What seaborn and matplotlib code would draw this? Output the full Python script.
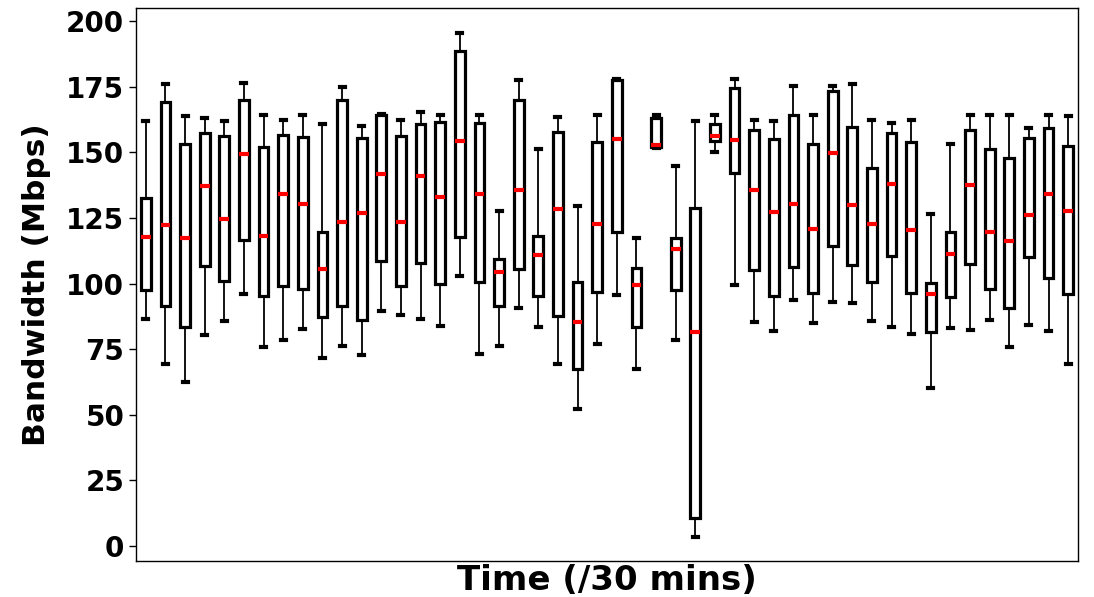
import numpy as np
import pandas as pd
import matplotlib
matplotlib.use("Agg")
import matplotlib.pyplot as plt
import seaborn as sns

# Five-number summaries per 30-minute slot
slots = list(range(1, 49))
whisker_high = [161.9, 175.9, 163.9, 163.2, 161.9, 176.3, 164.3, 162.3, 164.3, 160.8,
                174.9, 160.2, 164.5, 162.3, 165.4, 164.1, 195.3, 164.3, 127.5, 177.4,
                151.3, 163.4, 129.4, 164.3, 178.1, 117.5, 164.2, 144.7, 161.9, 164.1,
                177.8, 162.3, 161.9, 175.3, 164.3, 175.3, 175.9, 162.3, 161.2, 162.3,
                126.4, 153.3, 164.3, 164.3, 164.3, 159.4, 164.3, 163.9]
q3 = [132.5, 169.0, 153.3, 157.3, 156.2, 170.0, 151.9, 156.8, 155.8, 119.6,
      170.0, 155.3, 164.3, 156.4, 160.9, 161.7, 188.8, 161.1, 109.4, 169.9,
      118.3, 157.7, 100.5, 154.0, 177.5, 105.8, 163.0, 117.5, 128.8, 160.8,
      174.4, 158.7, 155.1, 164.3, 153.0, 173.2, 159.8, 144.1, 157.3, 154.0,
      100.1, 119.7, 158.7, 151.4, 147.7, 155.5, 159.2, 152.6]
median = [117.7, 122.4, 117.4, 137.3, 124.7, 149.4, 118.1, 134.1, 130.4, 105.7,
          123.5, 126.9, 141.6, 123.4, 140.8, 133.0, 154.4, 134.1, 104.6, 135.6,
          110.7, 128.5, 85.4, 122.7, 154.9, 99.6, 152.9, 113.3, 81.5, 156.3,
          154.8, 135.8, 127.3, 130.2, 120.7, 149.6, 130.0, 122.6, 137.8, 120.5,
          96.2, 111.4, 137.7, 119.8, 116.4, 126.2, 134.1, 127.5]
q1 = [97.5, 91.5, 83.4, 106.6, 101.1, 116.6, 95.3, 99.2, 97.8, 87.2,
      91.5, 86.1, 108.5, 99.2, 107.9, 99.7, 117.9, 100.5, 91.3, 105.6,
      95.1, 87.7, 67.6, 96.7, 119.8, 83.5, 152.2, 97.4, 10.7, 154.3,
      142.1, 105.3, 95.1, 106.5, 96.4, 114.5, 107.2, 100.5, 110.6, 96.4,
      81.6, 94.7, 107.3, 97.8, 90.7, 110.2, 102.0, 96.0]
whisker_low = [86.6, 69.5, 62.6, 80.5, 85.8, 96.2, 75.9, 78.5, 82.6, 71.8,
               76.2, 72.9, 89.5, 88.1, 86.4, 83.8, 102.8, 73.0, 76.4, 90.7,
               83.4, 69.5, 52.4, 77.0, 95.6, 67.5, 151.6, 78.6, 3.6, 150.2,
               99.3, 85.4, 82.0, 93.7, 84.9, 92.8, 92.5, 85.8, 83.4, 80.7,
               60.1, 83.0, 82.2, 86.2, 76.0, 84.3, 82.0, 69.5]
yticks = [0, 25, 50, 75, 100, 125, 150, 175, 200]

# Long-form table: five values per slot reproduce the quartiles exactly
rows = []
for i, s in enumerate(slots):
    for v in (whisker_low[i], q1[i], median[i], q3[i], whisker_high[i]):
        rows.append({"slot": s, "bw": v})
df = pd.DataFrame(rows)

plt.rcParams["font.family"] = ["DejaVu Sans"]
plt.rcParams["font.weight"] = "bold"

fig = plt.figure(figsize=(10.94, 5.97), dpi=100)
ax = fig.add_axes([136 / 1094, 1 - 561 / 597, (1078 - 136) / 1094, (561 - 8) / 597])

sns.boxplot(
    data=df, x="slot", y="bw", ax=ax,
    width=0.5, whis=(0, 100), fill=True, color="white", linecolor="black",
    boxprops=dict(facecolor="white", edgecolor="black", linewidth=2.3),
    medianprops=dict(color="red", linewidth=3, solid_capstyle="butt"),
    whiskerprops=dict(color="black", linewidth=1.3),
    capprops=dict(color="black", linewidth=3),
    showfliers=False,
)

ax.set_xticks([])
ax.set_xlim(-0.5, len(slots) - 0.5)
ax.set_ylim(-5.7, 205)
ax.set_yticks(yticks)
ax.set_yticklabels([str(t) for t in yticks], fontsize=20, fontweight="bold")
ax.tick_params(axis="y", length=5, width=1)
for sp in ax.spines.values():
    sp.set_visible(True)
    sp.set_linewidth(1)
    sp.set_color("black")
ax.set_xlabel("Time (/30 mins)", fontsize=24.5, fontweight="bold", labelpad=2)
ax.set_ylabel("Bandwidth (Mbps)", fontsize=22.5, fontweight="bold", labelpad=11)

fig.savefig("out.png", dpi=100)
